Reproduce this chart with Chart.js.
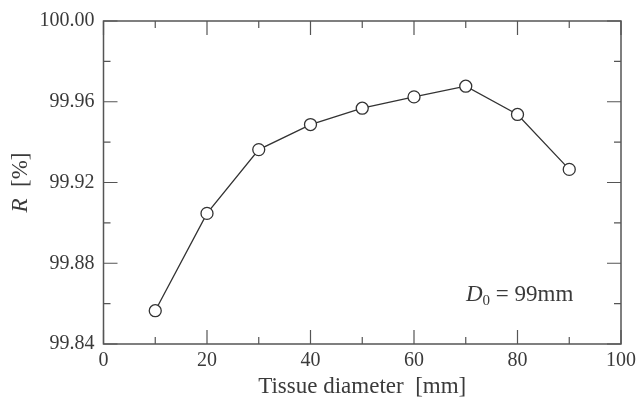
<!DOCTYPE html>
<html>
<head>
<meta charset="utf-8">
<script src="https://cdn.jsdelivr.net/npm/chart.js@4"></script>
<style>
  html, body { margin: 0; padding: 0; background: #fff; }
</style>
</head>
<body>
<canvas id="chart" width="641" height="401"></canvas>
<script>
// data
const diameters = [10, 20, 30, 40, 50, 60, 70, 80, 90];
const ratioR = [99.8565, 99.9047, 99.9363, 99.9487, 99.9568, 99.9624, 99.9677, 99.9537, 99.9265];
const xTicks = [0, 20, 40, 60, 80, 100];
const xMinor = [10, 30, 50, 70, 90];
const yTicks = [99.84, 99.88, 99.92, 99.96, 100.00];
const yMinor = [99.86, 99.90, 99.94, 99.98];

const SERIF = "'Liberation Serif', 'Times New Roman', serif";
const AXIS_COLOR = '#555';
const TEXT_COLOR = '#3a3a3a';

// frame with inward ticks on all four sides
const framePlugin = {
  id: 'frame',
  beforeDatasetsDraw(chart) {
    const { ctx, chartArea: a, scales } = chart;
    ctx.save();
    ctx.strokeStyle = AXIS_COLOR;
    ctx.lineWidth = 1.5;
    ctx.strokeRect(a.left, a.top, a.right - a.left, a.bottom - a.top);
    ctx.lineWidth = 1.2;
    ctx.beginPath();
    const xt = (v, len) => {
      const px = scales.x.getPixelForValue(v);
      ctx.moveTo(px, a.bottom); ctx.lineTo(px, a.bottom - len);
      ctx.moveTo(px, a.top); ctx.lineTo(px, a.top + len);
    };
    const yt = (v, len) => {
      const py = scales.y.getPixelForValue(v);
      ctx.moveTo(a.left, py); ctx.lineTo(a.left + len, py);
      ctx.moveTo(a.right, py); ctx.lineTo(a.right - len, py);
    };
    xTicks.forEach(v => xt(v, 14));
    xMinor.forEach(v => xt(v, 7));
    yTicks.forEach(v => yt(v, 14));
    yMinor.forEach(v => yt(v, 7));
    ctx.stroke();
    ctx.restore();
  },
  afterDraw(chart) {
    const { ctx, chartArea: a } = chart;
    ctx.save();
    ctx.fillStyle = TEXT_COLOR;
    ctx.textBaseline = 'middle';

    // y title: italic R + [%]
    const it = 'italic 23px ' + SERIF, rg = '23px ' + SERIF;
    ctx.font = it; const wR = ctx.measureText('R').width;
    ctx.font = rg; const wP = ctx.measureText('  [%]').width;
    ctx.translate(21, (a.top + a.bottom) / 2);
    ctx.rotate(-Math.PI / 2);
    let x0 = -(wR + wP) / 2;
    ctx.textAlign = 'left';
    ctx.font = it; ctx.fillText('R', x0, 0);
    ctx.font = rg; ctx.fillText('  [%]', x0 + wR, 0);
    ctx.setTransform(1, 0, 0, 1, 0, 0);

    // annotation D0 = 99mm
    ctx.textBaseline = 'alphabetic';
    const base = a.bottom - 43.5;
    let x = a.right - 155;
    ctx.font = it; ctx.fillText('D', x, base); x += ctx.measureText('D').width;
    ctx.font = '15px ' + SERIF; ctx.fillText('0', x, base + 4); x += ctx.measureText('0').width;
    ctx.font = rg; ctx.fillText(' = 99mm', x, base);
    ctx.restore();
  }
};

new Chart(document.getElementById('chart'), {
  type: 'line',
  data: {
    datasets: [{
      data: diameters.map((d, i) => ({ x: d, y: ratioR[i] })),
      borderColor: '#333',
      borderWidth: 1.3,
      pointRadius: 6,
      pointBackgroundColor: '#fff',
      pointBorderColor: '#333',
      pointBorderWidth: 1.3,
      tension: 0
    }]
  },
  options: {
    responsive: false,
    animation: false,
    layout: { padding: { top: 20.7, right: 18.3, left: 0, bottom: 0 } },
    plugins: { legend: { display: false }, tooltip: { enabled: false } },
    scales: {
      x: {
        type: 'linear', min: 0, max: 100,
        grid: { display: false, drawTicks: false },
        border: { display: false },
        afterBuildTicks: s => { s.ticks = xTicks.map(v => ({ value: v })); },
        afterFit: s => { s.height = 57; },
        ticks: { font: { family: SERIF, size: 20 }, color: TEXT_COLOR, padding: 5, maxRotation: 0 },
        title: {
          display: true, text: 'Tissue diameter  [mm]', color: TEXT_COLOR,
          font: { family: SERIF, size: 23 }, padding: { top: 0, bottom: 0 }
        }
      },
      y: {
        type: 'linear', min: 99.84, max: 100.0,
        grid: { display: false, drawTicks: false },
        border: { display: false },
        afterBuildTicks: s => { s.ticks = yTicks.map(v => ({ value: v })); },
        afterFit: s => { s.width = 103.5; },
        ticks: {
          font: { family: SERIF, size: 20 }, color: TEXT_COLOR, padding: 9,
          callback: v => v.toFixed(2)
        }
      }
    }
  },
  plugins: [framePlugin]
});
</script>
</body>
</html>
